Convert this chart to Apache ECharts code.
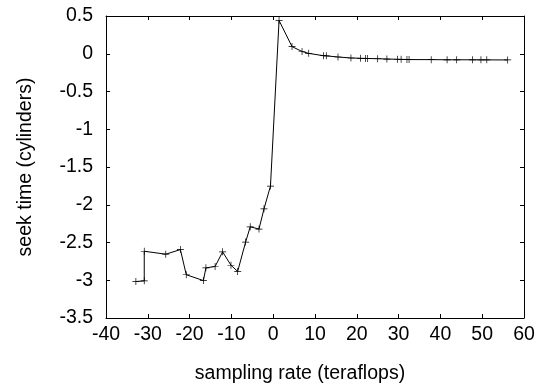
<!DOCTYPE html>
<html>
<head>
<meta charset="utf-8">
<script src="https://cdn.jsdelivr.net/npm/echarts@6/dist/echarts.min.js"></script>
<style>html,body{margin:0;padding:0;background:#fff}#c{width:546px;height:389px}</style>
</head>
<body>
<div id="c"></div>
<script>
const xValues = [-32.85, -30.85, -30.85, -25.7, -22.2, -20.8, -16.7, -16.1, -13.9, -12.1, -10.1, -8.5, -6.6, -5.5, -3.4, -2.2, -0.65, 1.4, 4.5, 6.9, 8.5, 12.0, 12.7, 15.5, 18.6, 20.9, 22.1, 22.6, 25.0, 27.2, 29.7, 30.6, 32.0, 32.5, 37.8, 41.6, 43.9, 47.7, 49.7, 51.1, 56.1];
const yValues = [-3.017, -3.008, -2.616, -2.655, -2.594, -2.927, -3.004, -2.836, -2.818, -2.624, -2.801, -2.883, -2.494, -2.292, -2.322, -2.054, -1.752, 0.44, 0.095, 0.03, 0.005, -0.026, -0.028, -0.043, -0.056, -0.06, -0.062, -0.063, -0.066, -0.07, -0.073, -0.074, -0.076, -0.077, -0.078, -0.08, -0.08, -0.08, -0.081, -0.081, -0.082];
const xTicks = [-40, -30, -20, -10, 0, 10, 20, 30, 40, 50, 60];
const yTicks = [-3.5, -3, -2.5, -2, -1.5, -1, -0.5, 0, 0.5];
const xLabel = 'sampling rate (teraflops)';
const yLabel = 'seek time (cylinders)';

const FONT = 'Liberation Sans';
const FS = 19.5;
const points = xValues.map((x, i) => [x, yValues[i]]);
const xMin = xTicks[0], xMax = xTicks[xTicks.length - 1];
const yMin = yTicks[0], yMax = yTicks[yTicks.length - 1];
const line = {show: true, onZero: false, lineStyle: {color: '#000', width: 1}};
const tick = {show: true, inside: true, length: 4, lineStyle: {color: '#000', width: 1}};

const chart = echarts.init(document.getElementById('c'), null, {renderer: 'canvas'});
chart.setOption({
  animation: false,
  backgroundColor: '#fff',
  grid: {left: 106, right: 22, top: 16, bottom: 64},
  xAxis: [{
    type: 'value', min: xMin, max: xMax, interval: 10, position: 'bottom',
    axisLine: line, axisTick: tick, splitLine: {show: false},
    axisLabel: {color: '#000', fontFamily: FONT, fontSize: FS, margin: 7},
    name: xLabel, nameLocation: 'middle', nameGap: 46,
    nameTextStyle: {color: '#000', fontFamily: FONT, fontSize: FS, padding: [0, 30, 0, 0]}
  }, {
    type: 'value', min: xMin, max: xMax, interval: 10, position: 'top',
    axisLine: line, axisTick: tick, splitLine: {show: false}, axisLabel: {show: false}
  }],
  yAxis: [{
    type: 'value', min: yMin, max: yMax, interval: 0.5, position: 'left',
    axisLine: line, axisTick: tick, splitLine: {show: false},
    axisLabel: {color: '#000', fontFamily: FONT, fontSize: FS, margin: 13},
    name: yLabel, nameLocation: 'middle', nameGap: 70, nameRotate: 90,
    nameTextStyle: {color: '#000', fontFamily: FONT, fontSize: FS}
  }, {
    type: 'value', min: yMin, max: yMax, interval: 0.5, position: 'right',
    axisLine: line, axisTick: tick, splitLine: {show: false}, axisLabel: {show: false}
  }],
  series: [{
    type: 'line', data: points, xAxisIndex: 0, yAxisIndex: 0,
    lineStyle: {color: '#000', width: 1},
    symbol: 'path://M4.5,0H5.5V4.5H10V5.5H5.5V10H4.5V5.5H0V4.5H4.5Z',
    symbolSize: 7, showSymbol: true,
    itemStyle: {color: '#000'}
  }]
});
</script>
</body>
</html>
